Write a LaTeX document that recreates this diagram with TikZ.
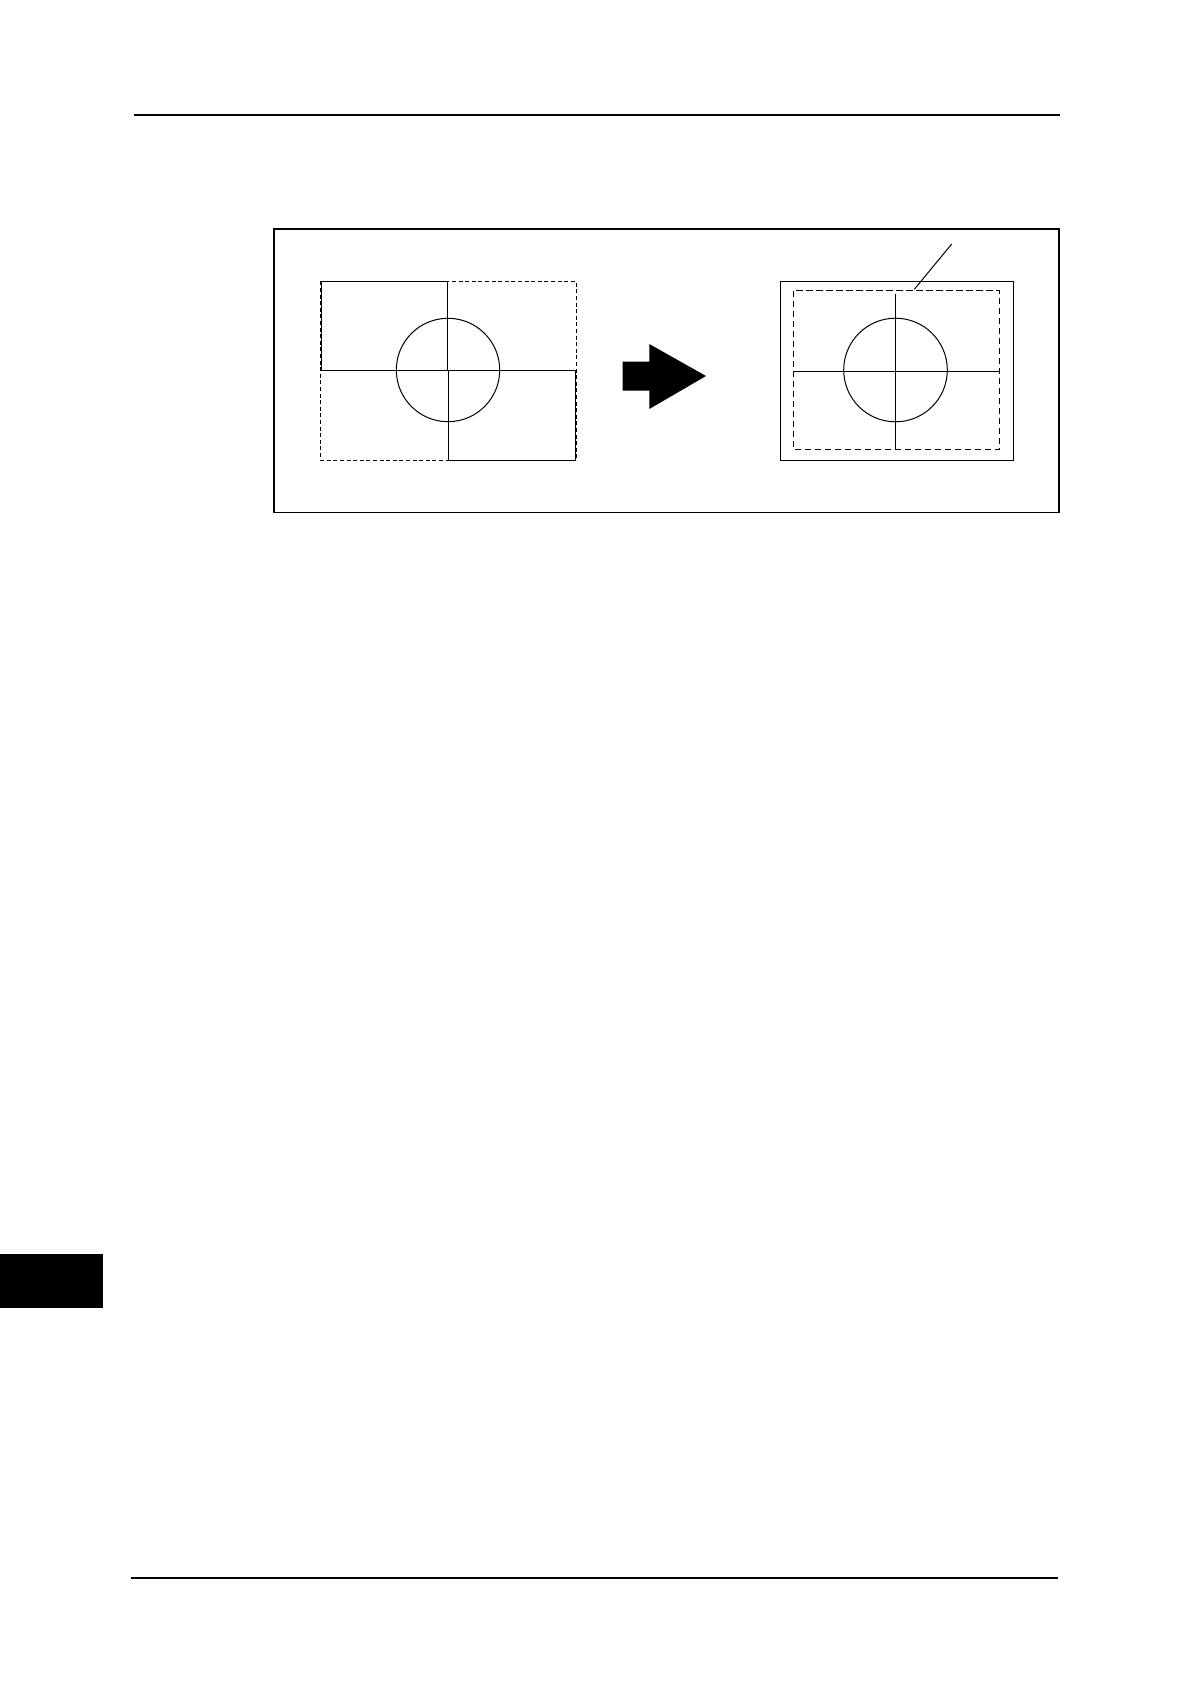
\documentclass[tikz,border=0pt]{standalone}
\begin{document}
\begin{tikzpicture}[x=0.5pt,y=-0.5pt,
  thin line/.style={line width=0.5pt},
  frame line/.style={line width=0.9pt},
  rule line/.style={line width=0.6pt},
  dash small/.style={line width=0.5pt,dash pattern=on 2pt off 1.3pt},
  dash big/.style={line width=0.5pt,dash pattern=on 3.2pt off 1.8pt}]
\useasboundingbox (0,0) rectangle (1191,1684);
% page rules and tab
\draw[rule line] (134,115) -- (1060,115);
\draw[rule line] (131,1578) -- (1058,1578);
\fill (0,1254) rectangle (103,1308);
% outer frame
\draw[frame line] (274,229) rectangle (1059,512.5);
% left picture
\draw[dash small] (320.5,281.5) rectangle (576,460);
\draw[thin line] (321,281.5) rectangle (447.5,371);
\draw[thin line] (448.3,371) rectangle (575.3,460);
\draw[thin line] (448,370) circle (51.7);
% arrow
\fill (622.7,361.7) -- (649.3,361.7) -- (649.3,344) -- (706,376) -- (649.3,409) -- (649.3,390.7) -- (622.7,390.7) -- cycle;
% right picture
\draw[thin line] (780.3,281.3) rectangle (1013.3,460);
\draw[dash big] (793.3,291) rectangle (999.7,449.3);
\draw[thin line] (793.3,371.3) -- (999.7,371.3);
\draw[thin line] (895,294) -- (895,449.3);
\draw[thin line] (895.5,370) circle (51.8);
\coordinate (lead) at (914.3,289.3);
\coordinate (leadend) at (951.7,244);
\draw[thin line] (lead) -- (leadend);
\end{tikzpicture}
\end{document}
